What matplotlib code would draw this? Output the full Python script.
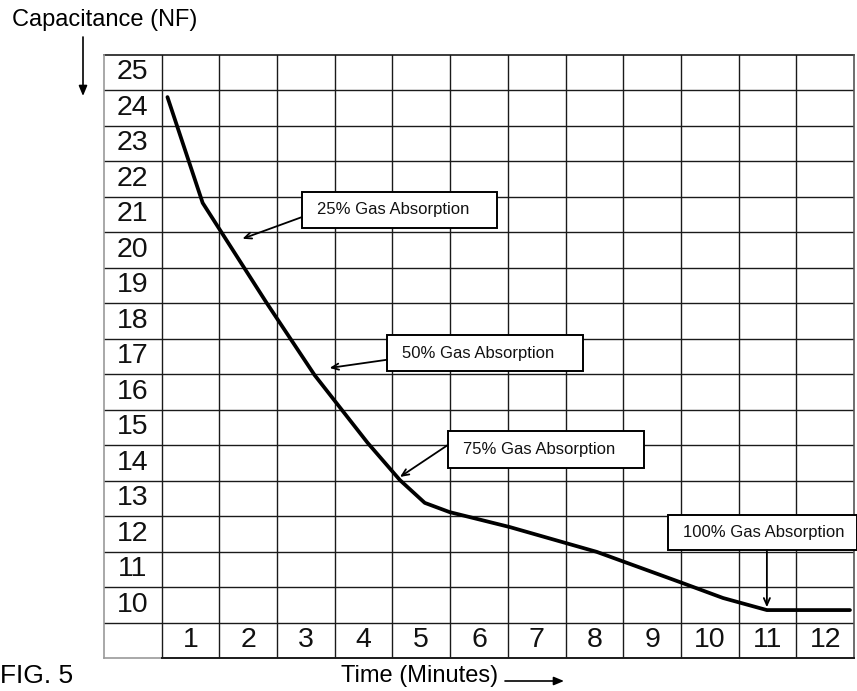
import matplotlib
matplotlib.use("Agg")
import matplotlib.pyplot as plt
from matplotlib.patches import Rectangle
import numpy as np

plt.rcParams['font.family'] = ['Liberation Sans', 'DejaVu Sans']

# ---- data ----
time_labels = [1, 2, 3, 4, 5, 6, 7, 8, 9, 10, 11, 12]
cap_labels = [25, 24, 23, 22, 21, 20, 19, 18, 17, 16, 15, 14, 13, 12, 11, 10]
curve_t = [0.60, 1.21, 2.32, 3.15, 4.07, 4.63, 5.06, 5.49, 6.53, 8.04, 9.53, 10.23, 10.99, 12.43]
curve_c = [24.30, 21.32, 18.50, 16.47, 14.56, 13.51, 12.87, 12.61, 12.19, 11.49, 10.61, 10.19, 9.85, 9.85]

ann_texts = ["25% Gas Absorption", "50% Gas Absorption", "75% Gas Absorption", "100% Gas Absorption"]
ann_target_t = [1.90, 3.41, 4.63, 10.99]
ann_target_c = [20.31, 16.67, 13.60, 9.93]
box_left = [2.93, 4.40, 5.46, 9.275]
box_right = [6.31, 7.80, 8.86, 12.55]
box_bottom = [20.61, 16.58, 13.85, 11.54]
box_top = [21.63, 17.60, 14.89, 12.53]
arrow_start_t = [2.93, 4.40, 5.46, 10.99]
arrow_start_c = [20.92, 16.90, 14.50, 11.54]
text_t = [3.19, 4.66, 5.72, 9.535]

fig = plt.figure(figsize=(8.57, 6.91), dpi=100)
ax = fig.add_axes([104 / 857, 1 - 658 / 691, 750 / 857, 603.5 / 691])
ax.set_xlim(-0.5, 12.5)
ax.set_ylim(8.5, 25.5)
ax.axis('off')

gc = '#1a1a1a'
# grid
x_bounds = np.arange(-0.5, len(time_labels) + 1, 1.0)
y_bounds = np.arange(8.5, max(cap_labels) + 1, 1.0)
for xb in x_bounds[1:-1]:
    ax.plot([xb, xb], [8.5, 25.5], color=gc, lw=1.0, zorder=1)
for yb in y_bounds[1:-1]:
    ax.plot([-0.5, 12.5], [yb, yb], color=gc, lw=1.0, zorder=1)
# border
ax.plot([-0.5, 12.5], [25.5, 25.5], color=gc, lw=1.2, clip_on=False)
ax.plot([12.5, 12.5], [8.5, 25.5], color='#555555', lw=1.2, clip_on=False)
ax.plot([-0.5, -0.5], [8.5, 25.5], color='#9a9a9a', lw=1.2, clip_on=False)
ax.plot([-0.5, 0.5], [8.5, 8.5], color='#9a9a9a', lw=1.2, clip_on=False)
ax.plot([0.5, 12.5], [8.5, 8.5], color=gc, lw=1.4, clip_on=False)

# cell labels
for v in cap_labels:
    ax.text(0, v, str(v), ha='center', va='center', fontsize=20.5, color='#111111')
for t in time_labels:
    ax.text(t, 9, str(t), ha='center', va='center', fontsize=20.5, color='#111111')

# curve
ax.plot(curve_t, curve_c, color='black', lw=2.7, solid_joinstyle='round',
        solid_capstyle='round', zorder=3)

# annotations
for i, txt in enumerate(ann_texts):
    ax.add_patch(Rectangle((box_left[i], box_bottom[i]), box_right[i] - box_left[i],
                           box_top[i] - box_bottom[i], facecolor='white',
                           edgecolor='black', lw=1.4, zorder=4, clip_on=False))
    ax.text(text_t[i], (box_bottom[i] + box_top[i]) / 2, txt, ha='left', va='center',
            fontsize=12, zorder=5, color='#111111')
    ax.annotate('', xy=(ann_target_t[i], ann_target_c[i]),
                xytext=(arrow_start_t[i], arrow_start_c[i]),
                arrowprops=dict(arrowstyle='->,head_length=0.5,head_width=0.22',
                                color='black', lw=1.3, shrinkA=0, shrinkB=0),
                zorder=5)

# outer texts
fig.text(12 / 857, 1 - 20 / 691, 'Capacitance (NF)', ha='left', va='center', fontsize=17)
ax.annotate('', xy=(83, 691 - 96), xycoords='figure pixels',
            xytext=(83, 691 - 37), textcoords='figure pixels',
            arrowprops=dict(arrowstyle='-|>,head_length=0.6,head_width=0.25',
                            color='black', lw=1.2, shrinkA=0, shrinkB=0))
fig.text(498 / 857, 1 - 676 / 691, 'Time (Minutes)', ha='right', va='center', fontsize=17)
ax.annotate('', xy=(564, 691 - 681), xycoords='figure pixels',
            xytext=(505, 691 - 681), textcoords='figure pixels',
            arrowprops=dict(arrowstyle='-|>,head_length=0.6,head_width=0.25',
                            color='black', lw=1.2, shrinkA=0, shrinkB=0))
fig.text(0 / 857, 1 - 676 / 691, 'FIG. 5', ha='left', va='center', fontsize=19)

fig.savefig('out.png', dpi=100)
